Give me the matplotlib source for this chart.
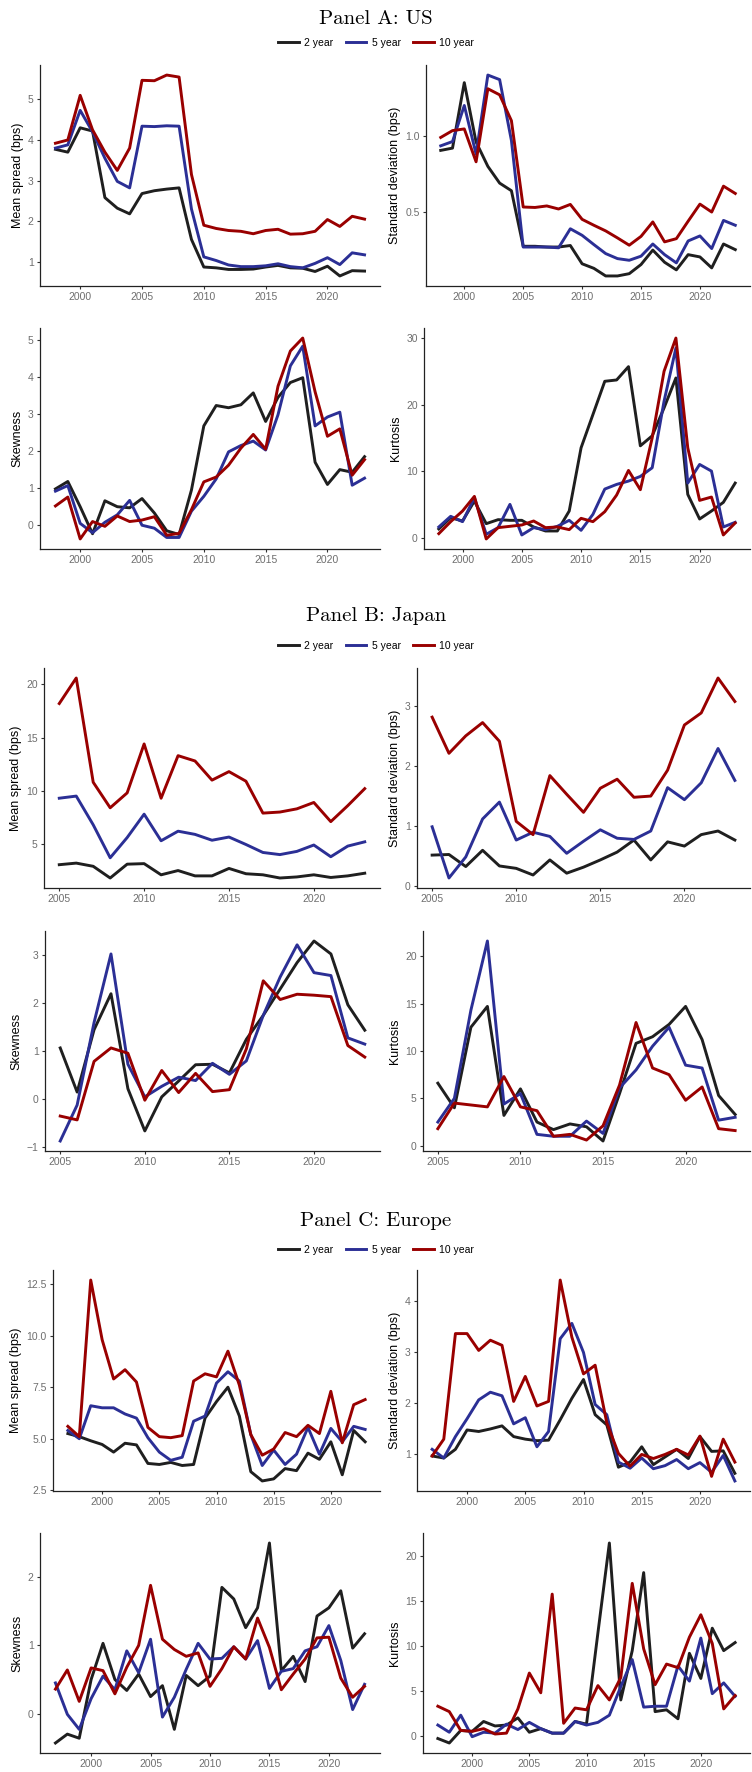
import matplotlib
matplotlib.use("Agg")
import matplotlib.pyplot as plt
from matplotlib.ticker import MultipleLocator, FormatStrFormatter
from matplotlib.lines import Line2D

# ---------------- data ----------------
maturities = ["2 year", "5 year", "10 year"]

# Panel A: US
years_us = list(range(1998, 2024))
us_mean_2y = [3.77, 3.70, 4.30, 4.22, 2.58, 2.32, 2.18, 2.68, 2.75, 2.79, 2.82, 1.55, 0.87, 0.85, 0.81, 0.81, 0.82, 0.87, 0.91, 0.85, 0.84, 0.76, 0.89, 0.65, 0.78, 0.77]
us_mean_5y = [3.80, 3.88, 4.73, 4.20, 3.55, 2.98, 2.82, 4.34, 4.33, 4.35, 4.34, 2.30, 1.12, 1.03, 0.92, 0.88, 0.88, 0.90, 0.95, 0.88, 0.85, 0.96, 1.10, 0.93, 1.22, 1.17]
us_mean_10y = [3.92, 4.00, 5.10, 4.25, 3.70, 3.25, 3.80, 5.47, 5.46, 5.60, 5.55, 3.15, 1.90, 1.82, 1.77, 1.75, 1.69, 1.77, 1.80, 1.68, 1.69, 1.75, 2.04, 1.87, 2.12, 2.05]
us_sd_2y = [0.905, 0.92, 1.35, 0.96, 0.80, 0.69, 0.64, 0.275, 0.275, 0.27, 0.27, 0.28, 0.16, 0.13, 0.08, 0.08, 0.095, 0.155, 0.25, 0.17, 0.12, 0.22, 0.205, 0.133, 0.29, 0.253]
us_sd_5y = [0.935, 0.963, 1.20, 0.88, 1.40, 1.37, 0.97, 0.27, 0.27, 0.27, 0.265, 0.39, 0.347, 0.286, 0.227, 0.194, 0.183, 0.21, 0.29, 0.22, 0.166, 0.31, 0.343, 0.26, 0.445, 0.413]
us_sd_10y = [0.99, 1.035, 1.046, 0.83, 1.31, 1.27, 1.10, 0.533, 0.53, 0.54, 0.52, 0.55, 0.452, 0.413, 0.376, 0.33, 0.282, 0.34, 0.435, 0.304, 0.325, 0.44, 0.552, 0.50, 0.67, 0.622]
us_skew_2y = [0.98, 1.18, 0.50, -0.23, 0.66, 0.50, 0.47, 0.72, 0.33, -0.15, -0.25, 0.95, 2.68, 3.23, 3.17, 3.25, 3.57, 2.80, 3.45, 3.85, 3.98, 1.70, 1.10, 1.50, 1.43, 1.85]
us_skew_5y = [0.92, 1.07, 0.05, -0.20, 0.08, 0.28, 0.67, 0.00, -0.08, -0.33, -0.33, 0.38, 0.78, 1.25, 1.98, 2.15, 2.27, 2.03, 2.98, 4.30, 4.83, 2.68, 2.92, 3.05, 1.08, 1.27]
us_skew_10y = [0.52, 0.76, -0.37, 0.10, -0.03, 0.25, 0.10, 0.14, 0.23, -0.27, -0.22, 0.42, 1.17, 1.30, 1.62, 2.08, 2.45, 2.05, 3.75, 4.70, 5.05, 3.60, 2.40, 2.60, 1.35, 1.77]
us_kurt_2y = [1.3, 3.0, 2.5, 5.5, 2.1, 2.7, 2.6, 2.6, 1.6, 1.0, 1.0, 4.0, 13.5, 18.5, 23.5, 23.7, 25.7, 13.8, 15.3, 19.5, 24.0, 6.5, 2.8, 4.0, 5.3, 8.2]
us_kurt_5y = [1.6, 3.2, 2.4, 6.0, 0.5, 1.5, 5.0, 0.4, 1.5, 1.2, 1.7, 2.6, 1.1, 3.5, 7.3, 8.0, 8.5, 9.2, 10.5, 20.5, 28.5, 8.2, 11.0, 10.0, 1.6, 2.3]
us_kurt_10y = [0.6, 2.4, 4.0, 6.2, -0.2, 1.5, 1.7, 1.9, 2.5, 1.5, 1.6, 1.2, 2.9, 2.4, 3.9, 6.4, 10.1, 7.2, 15.0, 25.0, 30.0, 13.5, 5.6, 6.1, 0.4, 2.2]

# Panel B: Japan
years_jp = list(range(2005, 2024))
jp_mean_2y = [3.05, 3.20, 2.90, 1.80, 3.10, 3.15, 2.10, 2.50, 2.00, 2.00, 2.70, 2.20, 2.10, 1.80, 1.90, 2.10, 1.85, 2.00, 2.25]
jp_mean_5y = [9.30, 9.50, 6.80, 3.70, 5.60, 7.80, 5.30, 6.20, 5.90, 5.35, 5.65, 4.95, 4.20, 4.00, 4.30, 4.90, 3.80, 4.80, 5.20]
jp_mean_10y = [18.2, 20.6, 10.8, 8.4, 9.8, 14.4, 9.3, 13.3, 12.8, 11.0, 11.8, 10.9, 7.9, 8.0, 8.3, 8.9, 7.1, 8.6, 10.2]
jp_sd_2y = [0.52, 0.53, 0.33, 0.60, 0.34, 0.30, 0.19, 0.44, 0.22, 0.32, 0.44, 0.57, 0.77, 0.44, 0.74, 0.67, 0.86, 0.92, 0.77]
jp_sd_5y = [0.99, 0.14, 0.49, 1.12, 1.40, 0.77, 0.90, 0.83, 0.55, 0.75, 0.94, 0.80, 0.78, 0.92, 1.64, 1.44, 1.72, 2.29, 1.76]
jp_sd_10y = [2.81, 2.21, 2.50, 2.72, 2.41, 1.08, 0.86, 1.84, 1.53, 1.23, 1.63, 1.78, 1.48, 1.50, 1.93, 2.68, 2.88, 3.46, 3.07]
jp_skew_2y = [1.07, 0.15, 1.45, 2.20, 0.22, -0.66, 0.05, 0.38, 0.72, 0.73, 0.55, 1.25, 1.75, 2.30, 2.85, 3.30, 3.03, 1.97, 1.44]
jp_skew_5y = [-0.87, -0.12, 1.60, 3.03, 0.73, 0.05, 0.27, 0.46, 0.39, 0.75, 0.52, 0.80, 1.75, 2.55, 3.22, 2.64, 2.58, 1.28, 1.15]
jp_skew_10y = [-0.35, -0.43, 0.79, 1.07, 0.96, -0.02, 0.60, 0.14, 0.54, 0.16, 0.20, 1.05, 2.47, 2.08, 2.19, 2.17, 2.14, 1.12, 0.88]
jp_kurt_2y = [6.6, 4.0, 12.5, 14.7, 3.2, 6.0, 2.5, 1.7, 2.3, 2.0, 0.5, 5.5, 10.8, 11.5, 12.8, 14.7, 11.2, 5.3, 3.3]
jp_kurt_5y = [2.5, 5.0, 14.3, 21.6, 4.4, 5.5, 1.2, 1.0, 1.0, 2.6, 1.3, 6.1, 8.0, 10.5, 12.5, 8.5, 8.2, 2.7, 3.0]
jp_kurt_10y = [1.8, 4.5, 4.3, 4.1, 7.3, 4.1, 3.7, 1.0, 1.2, 0.6, 2.1, 6.4, 13.0, 8.2, 7.5, 4.8, 6.2, 1.8, 1.6]

# Panel C: Europe
years_eu = list(range(1997, 2024))
eu_mean_2y = [5.25, 5.10, 4.90, 4.72, 4.35, 4.78, 4.70, 3.80, 3.75, 3.85, 3.70, 3.75, 6.00, 6.80, 7.50, 6.10, 3.40, 2.95, 3.05, 3.55, 3.45, 4.30, 4.00, 4.85, 3.25, 5.40, 4.85]
eu_mean_5y = [5.40, 5.00, 6.60, 6.50, 6.50, 6.20, 6.00, 5.05, 4.35, 3.95, 4.10, 5.85, 6.10, 7.70, 8.25, 7.80, 5.20, 3.70, 4.45, 3.75, 4.25, 5.55, 4.25, 5.50, 4.85, 5.60, 5.45]
eu_mean_10y = [5.60, 5.10, 12.70, 9.80, 7.90, 8.35, 7.75, 5.55, 5.10, 5.05, 5.15, 7.80, 8.15, 8.00, 9.25, 7.60, 5.20, 4.20, 4.50, 5.30, 5.10, 5.65, 5.25, 7.30, 4.80, 6.65, 6.90]
eu_sd_2y = [0.97, 0.93, 1.10, 1.48, 1.45, 1.50, 1.56, 1.35, 1.30, 1.27, 1.28, 1.68, 2.10, 2.47, 1.78, 1.58, 0.75, 0.85, 1.15, 0.80, 0.95, 1.10, 0.92, 1.35, 1.06, 1.07, 0.63]
eu_sd_5y = [1.10, 0.93, 1.35, 1.70, 2.07, 2.22, 2.15, 1.60, 1.72, 1.15, 1.45, 3.27, 3.57, 3.00, 1.98, 1.78, 0.85, 0.73, 0.93, 0.72, 0.78, 0.90, 0.72, 0.84, 0.65, 0.98, 0.48]
eu_sd_10y = [0.97, 1.30, 3.37, 3.37, 3.04, 3.24, 3.14, 2.04, 2.53, 1.95, 2.04, 4.42, 3.30, 2.58, 2.75, 1.62, 1.02, 0.77, 1.00, 0.92, 1.00, 1.10, 0.99, 1.36, 0.57, 1.30, 0.85]
eu_skew_2y = [-0.43, -0.30, -0.36, 0.50, 1.03, 0.50, 0.34, 0.58, 0.25, 0.41, -0.23, 0.56, 0.41, 0.55, 1.85, 1.68, 1.26, 1.55, 2.50, 0.63, 0.84, 0.47, 1.43, 1.55, 1.80, 0.96, 1.17]
eu_skew_5y = [0.45, -0.01, -0.23, 0.22, 0.55, 0.35, 0.92, 0.60, 1.09, -0.05, 0.24, 0.65, 1.03, 0.80, 0.81, 0.98, 0.80, 1.07, 0.37, 0.62, 0.66, 0.92, 0.98, 1.29, 0.78, 0.06, 0.43]
eu_skew_10y = [0.36, 0.64, 0.18, 0.67, 0.63, 0.29, 0.68, 1.00, 1.88, 1.09, 0.94, 0.84, 0.89, 0.40, 0.66, 0.98, 0.80, 1.40, 0.97, 0.35, 0.58, 0.80, 1.11, 1.12, 0.52, 0.24, 0.40]
eu_kurt_2y = [-0.3, -0.8, 0.6, 0.5, 1.6, 1.1, 1.2, 2.0, 0.4, 0.8, 0.3, 0.3, 1.6, 1.3, 11.5, 21.5, 4.0, 9.5, 18.2, 2.7, 2.9, 1.9, 9.2, 6.4, 12.0, 9.5, 10.4]
eu_kurt_5y = [1.2, 0.4, 2.3, -0.1, 0.4, 0.3, 1.3, 0.7, 1.5, 0.8, 0.3, 0.3, 1.6, 1.2, 1.5, 2.3, 5.5, 8.5, 3.2, 3.3, 3.3, 7.8, 6.1, 10.9, 4.7, 5.9, 4.4]
eu_kurt_10y = [3.3, 2.7, 0.6, 0.5, 0.8, 0.2, 0.3, 3.0, 7.0, 4.8, 15.8, 1.4, 3.1, 2.9, 5.6, 4.0, 6.5, 17.0, 9.7, 5.7, 8.0, 7.6, 11.0, 13.5, 10.3, 3.0, 4.5]

# ---------------- style ----------------
colors = ["#1f1f1f", "#2b2f95", "#990000"]
W, H = 752, 1772
fig = plt.figure(figsize=(W / 100, H / 100), dpi=100)
plt.rcParams["font.family"] = ["Liberation Sans", "DejaVu Sans"]


def add_ax(left, top, right, bottom):
    # pixel box (from top-left) -> figure fraction
    return fig.add_axes([left / W, 1 - bottom / H, (right - left) / W, (bottom - top) / H])


def draw(ax, years, series, ylabel, ystep, fmt=None):
    for vals, c in zip(series, colors):
        ax.plot(years, vals, color=c, lw=2.1, solid_joinstyle="round")
    ax.xaxis.set_major_locator(MultipleLocator(5))
    ax.yaxis.set_major_locator(MultipleLocator(ystep))
    if fmt:
        ax.yaxis.set_major_formatter(FormatStrFormatter(fmt))
    ax.set_ylabel(ylabel, fontsize=9, color="black", labelpad=3)
    for s in ["top", "right"]:
        ax.spines[s].set_visible(False)
    for s in ["left", "bottom"]:
        ax.spines[s].set_color("#222222")
        ax.spines[s].set_linewidth(0.9)
    ax.tick_params(labelsize=7.5, colors="#333333", labelcolor="#6e6e6e", length=2.5, width=0.8, pad=2)
    ax.margins(x=0.05, y=0.05)


panels = [
    ("Panel A: US", 19, 43, years_us,
     [(us_mean_2y, us_mean_5y, us_mean_10y), (us_sd_2y, us_sd_5y, us_sd_10y),
      (us_skew_2y, us_skew_5y, us_skew_10y), (us_kurt_2y, us_kurt_5y, us_kurt_10y)],
     [1, 0.5, 1, 10], [None, "%.1f", None, None],
     [(40, 65, 380, 286), (426, 65, 750, 286), (40, 328, 380, 549), (424, 328, 750, 549)]),
    ("Panel B: Japan", 616, 646, years_jp,
     [(jp_mean_2y, jp_mean_5y, jp_mean_10y), (jp_sd_2y, jp_sd_5y, jp_sd_10y),
      (jp_skew_2y, jp_skew_5y, jp_skew_10y), (jp_kurt_2y, jp_kurt_5y, jp_kurt_10y)],
     [5, 1, 1, 5], [None, None, None, None],
     [(44, 668, 380, 888), (417, 668, 750, 888), (45, 931, 380, 1151), (423, 931, 750, 1151)]),
    ("Panel C: Europe", 1221, 1250, years_eu,
     [(eu_mean_2y, eu_mean_5y, eu_mean_10y), (eu_sd_2y, eu_sd_5y, eu_sd_10y),
      (eu_skew_2y, eu_skew_5y, eu_skew_10y), (eu_kurt_2y, eu_kurt_5y, eu_kurt_10y)],
     [2.5, 1, 1, 5], ["%.1f", None, None, None],
     [(53, 1270, 380, 1491), (417, 1270, 750, 1491), (40, 1533, 380, 1753), (423, 1533, 750, 1753)]),
]
ylabels = ["Mean spread (bps)", "Standard deviation (bps)", "Skewness", "Kurtosis"]

for title, ty, ly, years, stats, steps, fmts, boxes in panels:
    fig.text(0.5, 1 - ty / H, title, family=["cmr10", "DejaVu Serif"],
             ha="center", va="center", fontsize=15)
    for series, lab, step, fmt, box in zip(stats, ylabels, steps, fmts, boxes):
        draw(add_ax(*box), years, series, lab, step, fmt)
    handles = [Line2D([], [], color=c, lw=2.1) for c in colors]
    fig.legend(handles, maturities, loc="center", bbox_to_anchor=(0.5, 1 - ly / H),
               ncol=3, frameon=False, fontsize=7.5, handlelength=2.0,
               columnspacing=1.2, handletextpad=0.5)

fig.savefig("out.png", dpi=100)
